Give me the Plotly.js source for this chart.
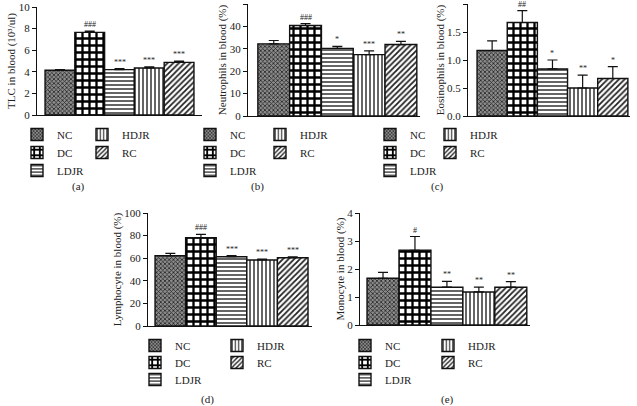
<!DOCTYPE html>
<html>
<head>
<meta charset="utf-8">
<script src="https://cdn.plot.ly/plotly-3.0.1.min.js"></script>
<style>html,body{margin:0;padding:0;background:#fff;}#chart{width:637px;height:406px;}</style>
</head>
<body>
<div id="chart"></div>
<script>
// ---- data ----
const groups = ['NC', 'DC', 'LDJR', 'HDJR', 'RC'];

const tlcMean = [4.15, 7.65, 4.2, 4.35, 4.87];
const tlcErr  = [0.06, 0.12, 0.1, 0.1, 0.12];
const tlcSig  = ['', '###', '***', '***', '***'];

const neuMean = [32.2, 40.4, 30.2, 27.4, 31.9];
const neuErr  = [1.5, 0.8, 0.9, 1.7, 1.4];
const neuSig  = ['', '###', '*', '***', '**'];

const eosMean = [1.17, 1.67, 0.84, 0.5, 0.67];
const eosErr  = [0.17, 0.21, 0.16, 0.23, 0.21];
const eosSig  = ['', '##', '*', '**', '*'];

const lymMean = [62.2, 78.1, 61.3, 58.4, 60.4];
const lymErr  = [2.1, 3.0, 0.9, 0.7, 0.9];
const lymSig  = ['', '###', '***', '***', '***'];

const monMean = [1.67, 2.67, 1.35, 1.18, 1.35];
const monErr  = [0.21, 0.49, 0.21, 0.17, 0.2];
const monSig  = ['', '#', '**', '**', '**'];

const yTitles = ['TLC in blood (10³/ul)', 'Neutrophils in blood (%)', 'Eosinophils in blood (%)',
                 'Lymphocyte in blood (%)', 'Monocyte in blood (%)'];
const panelLabels = ['(a)', '(b)', '(c)', '(d)', '(e)'];
const yMax = [10, 50, 2, 100, 4];
const yStep = [2, 10, 0.5, 20, 1];

// ---- styling ----
const W = 637, H = 406;
const FONT = 'Liberation Serif, Times New Roman, serif';
const px = v => v / W;
const py = v => 1 - v / H;

const styles = {
  NC:   {color: '#8c8c8c', pattern: {shape: 'x', fgcolor: '#222', size: 3, solidity: 0.45}},
  DC:   {color: '#ffffff', pattern: {shape: '+', fgcolor: '#000', size: 7, solidity: 0.55}},
  LDJR: {color: '#ffffff', pattern: {shape: '-', fgcolor: '#222', size: 4, solidity: 0.35}},
  HDJR: {color: '#ffffff', pattern: {shape: '|', fgcolor: '#222', size: 4, solidity: 0.35}},
  RC:   {color: '#ffffff', pattern: {shape: '/', fgcolor: '#222', size: 4, solidity: 0.45}}
};
// legend slot per group: [column, row]
const legSlot = {NC: [0, 0], DC: [0, 1], LDJR: [0, 2], HDJR: [1, 0], RC: [1, 1]};

// panel geometry (pixels)
const panels = [
  {mean: tlcMean, err: tlcErr, sig: tlcSig, ax: [37, 202], xr: [-0.77, 4.77], yb: 115, yt: 7,
   legX: [17, 82], legY: [134, 152, 170], lab: [78, 186]},
  {mean: neuMean, err: neuErr, sig: neuSig, ax: [248, 420], xr: [-0.81, 4.6], yb: 116, yt: 4,
   legX: [190, 260], legY: [134, 152, 170], lab: [257, 186]},
  {mean: eosMean, err: eosErr, sig: eosSig, ax: [468, 630], xr: [-0.8, 4.57], yb: 116, yt: 4,
   legX: [370, 430], legY: [134, 152, 170], lab: [437, 186]},
  {mean: lymMean, err: lymErr, sig: lymSig, ax: [148, 312], xr: [-0.73, 4.63], yb: 326, yt: 213,
   legX: [135, 217], legY: [345, 362, 379], lab: [208, 399]},
  {mean: monMean, err: monErr, sig: monSig, ax: [360, 530], xr: [-0.72, 4.6], yb: 325, yt: 213,
   legX: [345, 428], legY: [345, 362, 379], lab: [447, 399]}
];

const traces = [];
const layout = {
  width: W, height: H,
  margin: {l: 0, r: 0, t: 0, b: 0},
  paper_bgcolor: '#fff', plot_bgcolor: 'rgba(0,0,0,0)',
  barmode: 'overlay',
  font: {family: FONT, size: 11, color: '#222'},
  annotations: [],
  showlegend: true
};

const legBase = {xanchor: 'left', yanchor: 'top', orientation: 'v', bgcolor: 'rgba(0,0,0,0)',
                 borderwidth: 0, font: {family: FONT, size: 11, color: '#222'},
                 tracegroupgap: 0, itemclick: false, itemdoubleclick: false};

let legCount = 0;
panels.forEach((p, i) => {
  const n = i + 1;
  const xa = n === 1 ? 'x' : 'x' + n;
  const ya = n === 1 ? 'y' : 'y' + n;
  const xKey = n === 1 ? 'xaxis' : 'xaxis' + n;
  const yKey = n === 1 ? 'yaxis' : 'yaxis' + n;

  groups.forEach((g, k) => {
    const st = styles[g];
    legCount += 1;
    const lKey = legCount === 1 ? 'legend' : 'legend' + legCount;
    const slot = legSlot[g];
    layout[lKey] = Object.assign({}, legBase, {
      x: px(p.legX[slot[0]]), y: py(p.legY[slot[1]] - 14)
    });
    traces.push({
      type: 'bar', name: g, x: [g], y: [p.mean[k]], width: 1,
      xaxis: xa, yaxis: ya, legend: lKey,
      marker: {color: st.color, line: {color: '#111', width: 1.4},
               pattern: Object.assign({fillmode: 'replace', bgcolor: st.color}, st.pattern)},
      error_y: {type: 'data', symmetric: false, array: [p.err[k]], arrayminus: [0],
                color: '#111', thickness: 1.2, width: 5},
      hoverinfo: 'skip'
    });
    if (p.sig[k]) {
      layout.annotations.push({
        xref: xa, yref: ya, x: g, y: p.mean[k] + p.err[k], text: p.sig[k],
        showarrow: false, yanchor: 'bottom', yshift: 0,
        font: {family: FONT, size: 8, color: '#222'}
      });
    }
  });

  const ticks = [];
  for (let t = 0; t <= yMax[i] + 1e-9; t += yStep[i]) ticks.push(+t.toFixed(2));

  layout[xKey] = {
    domain: [px(p.ax[0]), px(p.ax[1])], range: p.xr, type: 'category',
    categoryarray: groups, anchor: ya, showticklabels: false, ticks: '',
    showline: true, linecolor: '#111', linewidth: 1, showgrid: false, zeroline: false, fixedrange: true
  };
  layout[yKey] = {
    domain: [py(p.yb), py(p.yt)], range: [0, yMax[i]], anchor: xa,
    tickvals: ticks, tickformat: i === 2 ? '.1f' : '', ticks: 'outside', ticklen: 4, tickwidth: 1,
    tickcolor: '#111', showline: true, linecolor: '#111', linewidth: 1, showgrid: false, zeroline: false,
    tickfont: {family: FONT, size: 11, color: '#222'},
    title: {text: yTitles[i], font: {family: FONT, size: 11, color: '#222'}, standoff: 0},
    fixedrange: true
  };

  layout.annotations.push({
    xref: 'paper', yref: 'paper', x: px(p.lab[0]), y: py(p.lab[1]), text: panelLabels[i],
    showarrow: false, xanchor: 'center', yanchor: 'middle',
    font: {family: FONT, size: 11, color: '#222'}
  });
});

Plotly.newPlot('chart', traces, layout, {displayModeBar: false, staticPlot: true});
</script>
</body>
</html>
